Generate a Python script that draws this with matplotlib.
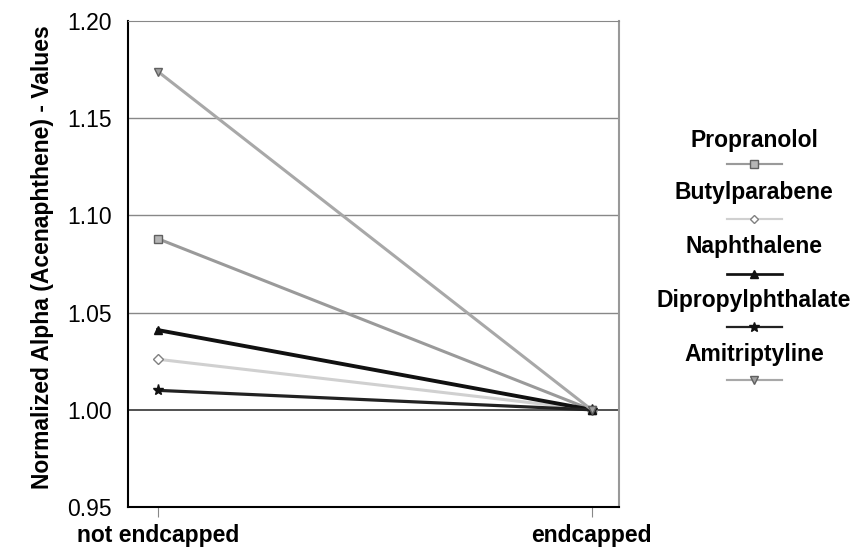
import matplotlib
matplotlib.use("Agg")
import matplotlib.pyplot as plt

plt.rcParams['font.family'] = ['Liberation Sans', 'DejaVu Sans']

categories = ["not endcapped", "endcapped"]
series_names = ["Propranolol", "Butylparabene", "Naphthalene", "Dipropylphthalate", "Amitriptyline"]
propranolol = [1.088, 1.000]
butylparabene = [1.026, 1.000]
naphthalene = [1.041, 1.000]
dipropylphthalate = [1.010, 1.000]
amitriptyline = [1.174, 1.000]
yticks = [0.95, 1.00, 1.05, 1.10, 1.15, 1.20]

series_values = [propranolol, butylparabene, naphthalene, dipropylphthalate, amitriptyline]
styles = [
    dict(color="#9a9a9a", marker="s", mfc="#b5b5b5", mec="#606060", ms=6, lw=2.2),
    dict(color="#d0d0d0", marker="D", mfc="white", mec="#808080", ms=5, lw=2.2),
    dict(color="#111111", marker="^", mfc="#111111", mec="#111111", ms=6, lw=2.8),
    dict(color="#222222", marker="*", mfc="#111111", mec="#111111", ms=8, lw=2.3),
    dict(color="#a8a8a8", marker="v", mfc="#a0a0a0", mec="#606060", ms=6, lw=2.2),
]

fig = plt.figure(figsize=(8.56, 5.49), dpi=100)
ax = fig.add_axes([128/856, 1-507/549, (619-128)/856, (507-21)/549])

x = list(range(len(categories)))
for vals, st in zip(series_values, styles):
    ax.plot(x, vals, **st)

ax.set_xlim(-0.069, 1.063)
ax.set_ylim(0.95, 1.20)
ax.set_yticks(yticks)
ax.set_yticklabels([f"{t:.2f}" for t in yticks], fontsize=16.5)
ax.set_xticks(x)
ax.set_xticklabels(categories, fontsize=16.5, fontweight="bold")
ax.tick_params(axis='y', length=0, pad=11.5)
ax.tick_params(axis='x', length=7.5, color="#888888", direction="out", pad=5)

for t in [1.05, 1.10, 1.15]:
    ax.axhline(t, color="#888888", lw=1.0, zorder=0)
ax.axhline(1.00, color="#333333", lw=1.2, zorder=0)

ax.spines['left'].set_color("black")
ax.spines['left'].set_linewidth(1.5)
ax.spines['bottom'].set_color("black")
ax.spines['bottom'].set_linewidth(1.5)
ax.spines['top'].set_color("#888888")
ax.spines['right'].set_color("#999999")
ax.spines['right'].set_linewidth(1.5)

ax.set_ylabel("Normalized Alpha (Acenaphthene) - Values", fontsize=16.5, fontweight="bold")
ax.yaxis.set_label_coords(-0.150, 0.515)

# legend
lax = fig.add_axes([0, 0, 1, 1], facecolor="none")
lax.set_xlim(0, 856)
lax.set_ylim(549, 0)
lax.axis("off")
text_y = [140, 193, 247, 301, 355]
mark_y = [164, 219, 274, 327, 380]
for name, st, ty, my in zip(series_names, styles, text_y, mark_y):
    lax.text(754, ty, name, ha="center", va="center", fontsize=16.5, fontweight="bold")
    lax.plot([727, 782], [my, my], color=st["color"], lw=st["lw"] * 0.7)
    lax.plot([754.5], [my], marker=st["marker"], mfc=st["mfc"], mec=st["mec"], ms=st["ms"] * 0.9, lw=0)

fig.savefig("out.png", dpi=100)
